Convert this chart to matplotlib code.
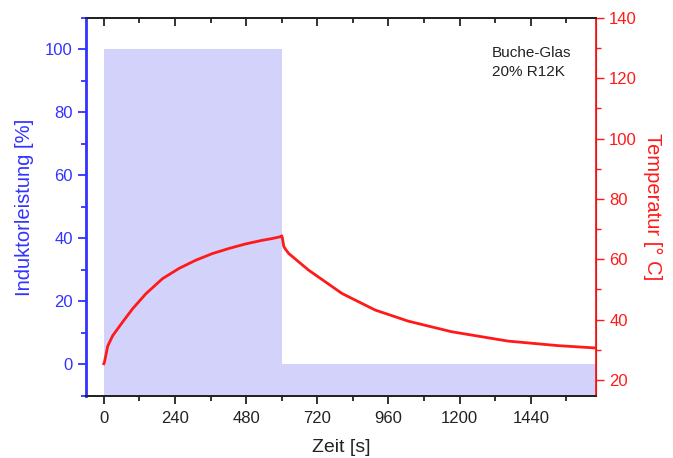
import matplotlib
matplotlib.use("Agg")
import matplotlib.pyplot as plt
from matplotlib.ticker import MultipleLocator

plt.rcParams["font.family"] = ["Liberation Sans", "DejaVu Sans"]

BLUE = "#3333ff"
RED = "#ff1a1a"
DARK = "#222222"
FILL = "#d2d2fa"

# inductor power (step profile)
power_t = [0, 600, 1660]
power = [100, 0, 0]

# measured temperature
temp_t = [0, 2, 13, 30, 64, 97, 142, 198, 254, 310, 366, 422, 478, 534,
          568, 596, 600, 602, 607, 613, 624, 691, 803, 915, 1027, 1173,
          1363, 1531, 1660]
temp = [25.4, 25.8, 31.2, 34.7, 39.3, 43.6, 48.6, 53.6, 57.0, 59.7, 61.9,
        63.6, 65.1, 66.3, 66.9, 67.5, 67.8, 67.2, 64.3, 63.3, 61.9, 56.4,
        48.7, 43.2, 39.5, 36.0, 32.9, 31.4, 30.6]

fig = plt.figure(figsize=(6.73, 4.58), dpi=100)
ax = fig.add_axes([0.1278, 0.1354, 0.7578, 0.8253])
ax2 = ax.twinx()

ax.fill_between(power_t, power, -10, step="post", color=FILL, lw=0)
ax2.plot(temp_t, temp, color=RED, lw=2)

ax.set_xlim(-60, 1660)
ax.set_ylim(-10, 110)
ax2.set_ylim(14.7, 140)

ax.xaxis.set_major_locator(MultipleLocator(240))
ax.xaxis.set_minor_locator(MultipleLocator(120))
ax.yaxis.set_major_locator(MultipleLocator(20))
ax.yaxis.set_minor_locator(MultipleLocator(10))
ax2.yaxis.set_major_locator(MultipleLocator(20))
ax2.yaxis.set_minor_locator(MultipleLocator(10))

ax.tick_params(axis="x", which="both", direction="out", labelsize=12,
               colors=DARK, width=1.3, pad=5)
ax.tick_params(axis="x", which="major", length=6)
ax.tick_params(axis="x", which="minor", length=3.5)

# inward ticks along the top edge
top = ax.secondary_xaxis("top")
top.xaxis.set_major_locator(MultipleLocator(240))
top.xaxis.set_minor_locator(MultipleLocator(120))
top.tick_params(axis="x", which="both", direction="in", labeltop=False,
                colors=DARK, width=1.3)
top.tick_params(axis="x", which="major", length=6)
top.tick_params(axis="x", which="minor", length=3.5)
top.spines["top"].set_color(DARK)
top.spines["top"].set_linewidth(1.3)

ax.tick_params(axis="y", which="both", direction="out", colors=BLUE,
               labelsize=12, width=1.3)
ax.tick_params(axis="y", which="major", length=6)
ax.tick_params(axis="y", which="minor", length=3.5)
ax2.tick_params(axis="y", which="both", direction="out", colors=RED,
                labelsize=12, width=1.0)
ax2.tick_params(axis="y", which="major", length=6)
ax2.tick_params(axis="y", which="minor", length=3.5)

for a in (ax, ax2):
    a.spines["top"].set_color(DARK)
    a.spines["bottom"].set_color(DARK)
    a.spines["top"].set_linewidth(1.3)
    a.spines["bottom"].set_linewidth(1.3)
ax2.spines["left"].set_color(BLUE)
ax2.spines["left"].set_linewidth(2)
ax2.spines["right"].set_color(RED)
ax2.spines["right"].set_linewidth(1.3)

ax.set_xlabel("Zeit [s]", fontsize=14, color=DARK, labelpad=9)
ax.set_ylabel("Induktorleistung [%]", fontsize=14.5, color=BLUE, labelpad=8)
ax2.set_ylabel("Temperatur [° C]", fontsize=14.5, color=RED, rotation=270,
               labelpad=18)

ax2.text(0.796, 0.925, "Buche-Glas\n20% R12K", transform=ax.transAxes,
         ha="left", va="top", fontsize=11, color=DARK, linespacing=1.4)

fig.savefig("out.png", dpi=100)
